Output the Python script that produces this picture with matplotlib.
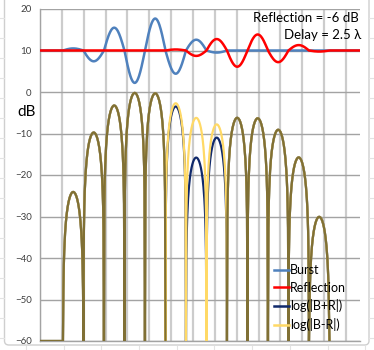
import numpy as np
import matplotlib
matplotlib.use('Agg')
import matplotlib.pyplot as plt
from matplotlib.lines import Line2D
from matplotlib.patches import FancyBboxPatch

# burst: peak value of each half cycle, measured from the +10 baseline
burst_lobes = [0.5, -2.6, 5.5, -7.8, 7.7, -5.6, 2.6, -0.5]
burst_start = 0.56      # first zero crossing (wavelengths)
burst_ref = 8.0         # amplitude shown as 0 dB
baseline = 10

reflection_db = -6
delay = 2.5             # wavelengths

x_max = 7.805
grid_step = 0.533
y_ticks = [20, 10, 0, -10, -20, -30, -40, -50, -60]
floor_db = -60

names = ['Burst', 'Reflection', 'log(|B+R|)', 'log(|B-R|)']
colors = ['#4F81BD', '#FF0000', '#10296B', '#FFD966']
olive = '#807035'

plt.rcParams['font.family'] = ['Lato', 'DejaVu Sans']

half = 0.5
steps = 48


def lobes(x, start, peaks):
    pos = (x - start) / half
    k = np.floor(pos + 1e-9).astype(int)
    y = np.zeros_like(x)
    ok = (k >= 0) & (k < len(peaks))
    y[ok] = np.take(peaks, k[ok]) * np.sin(np.pi * (pos[ok] - k[ok]))
    return y


def to_db(v):
    v = np.maximum(np.abs(v), 1e-12)
    return np.maximum(20 * np.log10(v / burst_ref), floor_db)


i0 = int(np.floor(burst_start / half * steps))
n = int((x_max - burst_start) / half * steps) + 1
x = burst_start + half / steps * np.arange(-i0, n + 1)
x = np.concatenate([[0.0], x[x <= x_max]])

gain = 10 ** (reflection_db / 20)
b = lobes(x, burst_start, burst_lobes)
r = gain * lobes(x, burst_start + delay, burst_lobes)

end = burst_start + delay + half * len(burst_lobes)
keep = x <= end + 1e-9
xd = x[keep]
db_sum = to_db(b + r)[keep]
db_diff = to_db(b - r)[keep]
same = ((b == 0) | (r == 0))[keep]
db_same = np.where(same, db_sum, np.nan)

W, H = 374, 350
fig = plt.figure(figsize=(W / 100, H / 100), dpi=100)

# worksheet cell lines around the chart
cell = '#E3E3E3'
for yy in np.arange(18, H, 20):
    fig.add_artist(Line2D([0, 4 / W], [1 - yy / H] * 2, color=cell, lw=0.8))
    fig.add_artist(Line2D([369 / W, 1], [1 - yy / H] * 2, color=cell, lw=0.8))
for xx in np.arange(26, W, 37.7):
    fig.add_artist(Line2D([xx / W] * 2, [0, 4.5 / H], color=cell, lw=0.8))

# chart area frame
frame = FancyBboxPatch((4.5 / W, 5 / H), 364.5 / W, 1 - 5 / H + 0.05,
                       boxstyle='round,pad=0,rounding_size=0.012',
                       transform=fig.transFigure, facecolor='white',
                       edgecolor='#CFCFCF', lw=1.0, zorder=-1)
fig.patches.append(frame)

ax = fig.add_axes([40 / W, 9 / H, 320 / W, 332 / H])
ax.set_facecolor('none')
ax.set_xlim(0, x_max)
ax.set_ylim(-60, 20)
ax.set_yticks(y_ticks)
ax.set_xticks(np.arange(0, x_max, grid_step))
ax.tick_params(axis='x', length=0, labelbottom=False)
ax.tick_params(axis='y', length=0, pad=6, labelsize=7, labelcolor='#404040')
ax.xaxis.grid(True, color='#CCCCCC', lw=1.6)
ax.yaxis.grid(True, color='#A3A3A3', lw=1.0)
ax.set_axisbelow(True)
for side in ['top', 'right']:
    ax.spines[side].set_visible(False)
for side in ['left', 'bottom']:
    ax.spines[side].set_color('#A3A3A3')
    ax.spines[side].set_linewidth(1.0)

ax.plot(x, baseline + b, color=colors[0], lw=1.8, zorder=3)
ax.plot(x, baseline + r, color=colors[1], lw=1.8, zorder=4)
ax.plot(xd, db_sum, color=colors[2], lw=1.6, zorder=5)
ax.plot(xd, db_diff, color=colors[3], lw=1.6, zorder=6)
ax.plot(xd, db_same, color=olive, lw=1.6, zorder=7)

fig.text(26.5 / W, 1 - 112 / H, 'dB', fontsize=11, ha='center', va='center')
fig.text(359 / W, 1 - 18 / H, 'Reflection = %d dB' % reflection_db,
         fontsize=9.5, ha='right', va='center')
fig.text(361 / W, 1 - 35 / H, 'Delay = %g \u03bb' % delay,
         fontsize=9.5, ha='right', va='center')

handles = [Line2D([], [], color=c, lw=1.8) for c in colors]
fig.legend(handles, names, loc='upper left',
           bbox_to_anchor=(274 / W, 1 - 264 / H), frameon=False,
           fontsize=9, handlelength=1.2, handletextpad=0.1,
           labelspacing=0.45, borderpad=0, borderaxespad=0)

fig.savefig('out.png', dpi=100)
